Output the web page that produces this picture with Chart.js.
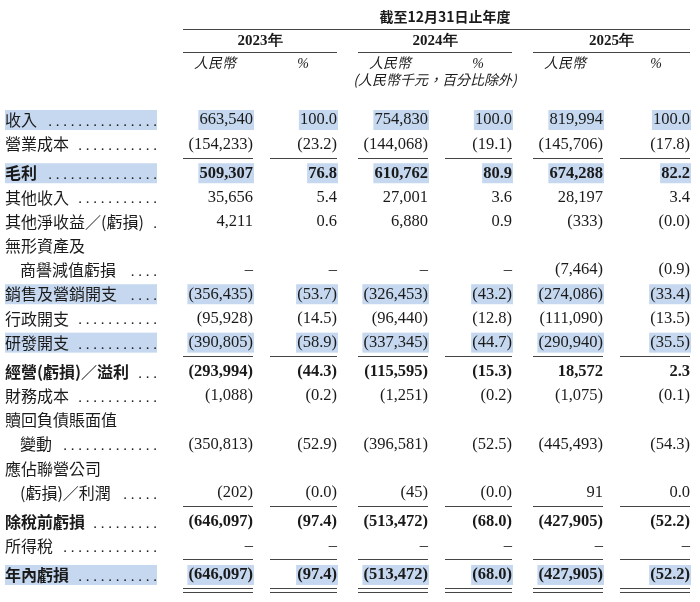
<!DOCTYPE html>
<html><head><meta charset="utf-8">
<script src="https://cdn.jsdelivr.net/npm/chart.js@4/dist/chart.umd.min.js"></script>
<style>html,body{margin:0;background:#fff}#wrap{width:700px;height:602px}</style>
</head><body><div id="wrap"><canvas id="c"></canvas></div>
<script>
// ─── Data ──────────────────────────────────────────────────────────────────
const ROW_LABELS = ['收入', '營業成本', '毛利', '其他收入', '其他淨收益／(虧損)', '無形資產及', '商譽減值虧損',
  '銷售及營銷開支', '行政開支', '研發開支', '經營(虧損)／溢利', '財務成本', '贖回負債賬面值', '變動',
  '應佔聯營公司', '(虧損)／利潤', '除稅前虧損', '所得稅', '年內虧損'];
const YEARS = ['2023年', '2024年', '2025年'];
const RMB_2023 = ['663,540', '(154,233)', '509,307', '35,656', '4,211', '', '–', '(356,435)', '(95,928)', '(390,805)', '(293,994)', '(1,088)', '', '(350,813)', '', '(202)', '(646,097)', '–', '(646,097)'];
const PCT_2023 = ['100.0', '(23.2)', '76.8', '5.4', '0.6', '', '–', '(53.7)', '(14.5)', '(58.9)', '(44.3)', '(0.2)', '', '(52.9)', '', '(0.0)', '(97.4)', '–', '(97.4)'];
const RMB_2024 = ['754,830', '(144,068)', '610,762', '27,001', '6,880', '', '–', '(326,453)', '(96,440)', '(337,345)', '(115,595)', '(1,251)', '', '(396,581)', '', '(45)', '(513,472)', '–', '(513,472)'];
const PCT_2024 = ['100.0', '(19.1)', '80.9', '3.6', '0.9', '', '–', '(43.2)', '(12.8)', '(44.7)', '(15.3)', '(0.2)', '', '(52.5)', '', '(0.0)', '(68.0)', '–', '(68.0)'];
const RMB_2025 = ['819,994', '(145,706)', '674,288', '28,197', '(333)', '', '(7,464)', '(274,086)', '(111,090)', '(290,940)', '18,572', '(1,075)', '', '(445,493)', '', '91', '(427,905)', '–', '(427,905)'];
const PCT_2025 = ['100.0', '(17.8)', '82.2', '3.4', '(0.0)', '', '(0.9)', '(33.4)', '(13.5)', '(35.5)', '2.3', '(0.1)', '', '(54.3)', '', '0.0', '(52.2)', '–', '(52.2)'];

const BOLD_ROWS = [2, 10, 16, 18];
const HILITE_ROWS = [0, 2, 7, 9, 18];
const INDENT_ROWS = [6, 13, 15];
const NO_DOTS = [5, 12, 14];
const RULE_AFTER = [1, 9, 15, 17];

const COLS = [RMB_2023, PCT_2023, RMB_2024, PCT_2024, RMB_2025, PCT_2025];
const COL_RIGHT = [253, 337, 428, 512, 603, 690];
const COL_LEFT = [183, 270, 358, 445, 533, 620];
const HILITE = '#c5d8ef';
const INK = '#1a1a1a';
const SERIF = '"Liberation Serif", "DejaVu Serif", serif';
const CJK = '"Noto Sans CJK TC", "Noto Sans CJK SC", sans-serif';

// row slot: index plus a small gap after each ruled row
const slot = i => i + 0.2 * RULE_AFTER.filter(r => r < i).length;

const points = [];
COLS.forEach((col, c) => col.forEach((v, r) => points.push({ x: COL_RIGHT[c], y: slot(r), v, c, r })));

// ─── Table drawing plugin ──────────────────────────────────────────────────
const tablePlugin = {
  id: 'table',
  afterDatasetsDraw(chart) {
    const { ctx, scales: { x, y } } = chart;
    const px = v => x.getPixelForValue(v);
    const py = v => y.getPixelForValue(v);
    ctx.save();
    ctx.textBaseline = 'middle';
    ctx.strokeStyle = '#444'; ctx.lineWidth = 1;
    const hline = (a, b, yy) => { ctx.beginPath(); ctx.moveTo(px(a), yy + 0.5); ctx.lineTo(px(b), yy + 0.5); ctx.stroke(); };

    // header
    ctx.fillStyle = INK;
    ctx.textAlign = 'center';
    ctx.font = `bold 14px ${CJK}`;
    ctx.fillText('截至12月31日止年度', px(445), 17);
    hline(183, 690, 29);
    YEARS.forEach((yr, i) => {
      ctx.font = `bold 15px ${SERIF}`;
      ctx.fillText(yr, px((COL_LEFT[i * 2] + COL_RIGHT[i * 2 + 1]) / 2), 41);
      hline(COL_LEFT[i * 2], COL_RIGHT[i * 2 + 1], 52);
      ctx.font = `italic 14px ${CJK}`;
      ctx.fillText('人民幣', px(COL_LEFT[i * 2] + 32), 63);
      ctx.font = `italic 14px ${SERIF}`;
      ctx.fillText('%', px(COL_RIGHT[i * 2 + 1] - 34), 64);
    });
    ctx.font = `italic 14px ${CJK}`;
    ctx.fillText('(人民幣千元，百分比除外)', px(435), 80);

    // row labels
    ctx.textAlign = 'left';
    ROW_LABELS.forEach((lab, r) => {
      const yy = py(slot(r));
      const bold = BOLD_ROWS.includes(r);
      if (HILITE_ROWS.includes(r)) { ctx.fillStyle = HILITE; ctx.fillRect(px(5), yy - 10, px(157) - px(5), 20); }
      ctx.fillStyle = INK;
      ctx.font = `${bold ? 'bold ' : ''}16px ${CJK}`;
      const x0 = px(INDENT_ROWS.includes(r) ? 20 : 5);
      ctx.fillText(lab, x0, yy);
      if (!NO_DOTS.includes(r)) {
        const w = ctx.measureText(lab).width;
        ctx.font = `15px ${SERIF}`;
        let d = ' ';
        while (ctx.measureText(d + ' .').width < px(157) - x0 - w) d += ' .';
        ctx.textAlign = 'right';
        ctx.fillText(d.trim(), px(157), yy + 2);
        ctx.textAlign = 'left';
      }
    });

    // cells
    ctx.textAlign = 'right';
    points.forEach(p => {
      if (!p.v) return;
      const xx = px(p.x), yy = py(p.y);
      ctx.font = `${BOLD_ROWS.includes(p.r) ? 'bold ' : ''}16.5px ${SERIF}`;
      if (HILITE_ROWS.includes(p.r)) {
        const w = ctx.measureText(p.v).width;
        ctx.fillStyle = HILITE; ctx.fillRect(xx - w - 1, yy - 10, w + 2, 20);
      }
      ctx.fillStyle = INK;
      ctx.fillText(p.v, xx, yy);
    });

    // rules under columns
    const gap = (py(1) - py(0));
    RULE_AFTER.forEach(r => {
      const yy = Math.round(py(slot(r)) + gap * 0.55);
      COL_LEFT.forEach((l, c) => hline(l, COL_RIGHT[c], yy));
    });
    const yl = Math.round(py(slot(ROW_LABELS.length - 1)) + gap * 0.55);
    COL_LEFT.forEach((l, c) => { hline(l, COL_RIGHT[c], yl); hline(l, COL_RIGHT[c], yl + 4); });
    ctx.restore();
  }
};

// ─── Chart ─────────────────────────────────────────────────────────────────
const UNIT = 24.2, TOP = 120;
new Chart(document.getElementById('c'), {
  type: 'scatter',
  data: { datasets: [{ data: points, pointRadius: 0 }] },
  options: {
    responsive: true, maintainAspectRatio: false, animation: false,
    layout: { padding: 0 },
    plugins: { legend: { display: false }, tooltip: { enabled: false } },
    scales: {
      x: { type: 'linear', min: 0, max: 700, display: false },
      y: { type: 'linear', reverse: true, min: -TOP / UNIT, max: (602 - TOP) / UNIT, display: false }
    }
  },
  plugins: [tablePlugin]
});
</script></body></html>
